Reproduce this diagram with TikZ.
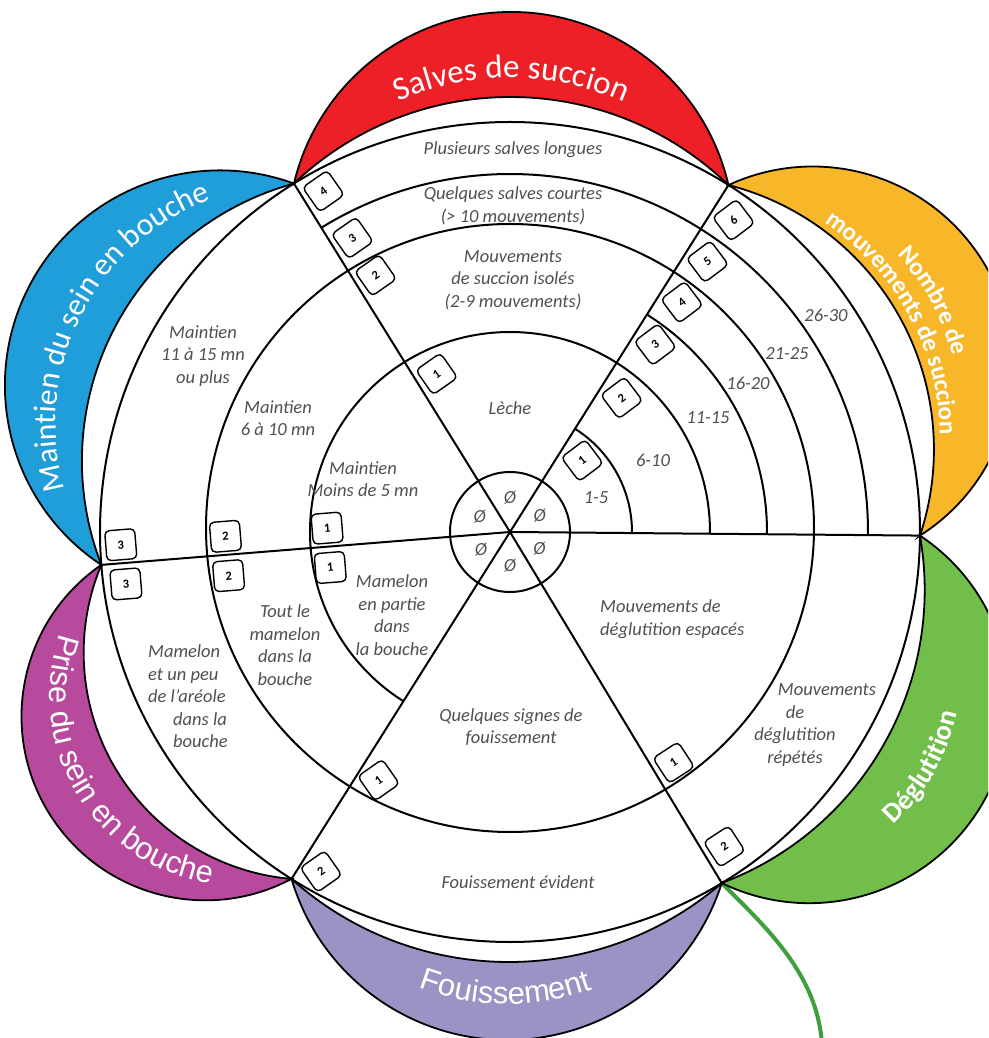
\documentclass[tikz,border=0pt]{standalone}
\usepackage{fontspec}
\setmainfont{Carlito}
\newfontfamily\arialf{Liberation Sans}
\usetikzlibrary{decorations.text,calc}

\definecolor{cyellow}{RGB}{248,183,40}
\definecolor{cred}{RGB}{236,32,38}
\definecolor{cblue}{RGB}{32,158,218}
\definecolor{cmag}{RGB}{184,74,158}
\definecolor{clav}{RGB}{156,146,196}
\definecolor{cgreen}{RGB}{114,190,74}
\definecolor{cstem}{RGB}{62,160,60}
\definecolor{txtgray}{RGB}{80,80,80}

% geometry of a circular arc through (a1:410) and (a2:410) with apex at distance D
\newcommand\lensgeom[3]{%
  \pgfmathsetmacro\lgH{4.1*sin(((#2)-(#1))/2)}%
  \pgfmathsetmacro\lgD{4.1*cos(((#2)-(#1))/2)}%
  \pgfmathsetmacro\lgS{(#3)/100-\lgD}%
  \pgfmathsetmacro\lgR{(\lgH*\lgH+\lgS*\lgS)/(2*\lgS)}%
  \pgfmathsetmacro\lgC{(#3)/100-\lgR}%
  \pgfmathsetmacro\lgM{((#1)+(#2))/2}%
  \pgfmathsetmacro\lgOx{\lgC*cos(\lgM)}%
  \pgfmathsetmacro\lgOy{\lgC*sin(\lgM)}%
  \pgfmathsetmacro\lgA{atan2(4.1*sin(#1)-\lgOy,4.1*cos(#1)-\lgOx)}%
  \pgfmathsetmacro\lgB{atan2(4.1*sin(#2)-\lgOy,4.1*cos(#2)-\lgOx)}%
  \pgfmathsetmacro\lgB{\lgB+360*(\lgB<\lgA)}%
  \pgfmathsetmacro\lgRpx{\lgR*100}%
}
\newcommand\petal[5]{%
  \lensgeom{#1}{#2}{#3}%
  \let\pOA\lgA \let\pOB\lgB \let\pOR\lgRpx
  \lensgeom{#1}{#2}{#4}%
  \filldraw[petalst, fill=#5] (#1:410pt) arc[start angle=\pOA, end angle=\pOB, radius=\pOR pt]
     arc[start angle=\lgB, end angle=\lgA, radius=\lgRpx pt] -- cycle;%
}
\newcommand\ptext[5]{%
  \lensgeom{#1}{#2}{#3}%
  \ifnum#4=1
    \path[decorate, decoration={text along path, text={#5}, text align=center, text color=white}]
      (#2:410pt) arc[start angle=\lgB, end angle=\lgA, radius=\lgRpx pt];%
  \else
    \path[decorate, decoration={text along path, text={#5}, text align=center, text color=white}]
      (#1:410pt) arc[start angle=\lgA, end angle=\lgB, radius=\lgRpx pt];%
  \fi
}

\tikzset{
  ring/.style={draw=black, line width=2pt},
  petalst/.style={draw=black, line width=1.8pt},
  lbl/.style={font=\fontsize{18.5}{22.5}\selectfont\itshape, text=txtgray, align=center, inner sep=0pt},
  numbox/.style={draw=black, line width=1.4pt, rounded corners=4.5pt, minimum width=30pt,
    minimum height=30pt, inner sep=0pt, fill=white, font=\fontsize{12.5}{12.5}\selectfont\bfseries},
}

\begin{document}
\begin{tikzpicture}[x=1pt,y=1pt]
\useasboundingbox (-510,-506) rectangle (478,532);
\clip (-510,-506) rectangle (478,532);
\fill[white] (-510,-506) rectangle (478,532);

\coordinate (C) at (0,0);
\coordinate (J1) at (-0.5:410pt);
\coordinate (J2) at (57.8:410pt);
\coordinate (J3) at (121.8:410pt);
\coordinate (J4) at (184.6:410pt);
\coordinate (J5) at (237.8:410pt);
\coordinate (J6) at (301.1:410pt);
\coordinate (stemend) at (312,-512);

% stem
\draw[cstem, line width=4pt] (J6) .. controls +(45,-45) and +(-5,70) .. (stemend);

% petals
\petal{-0.5}{57.8}{545}{445}{cyellow}
\petal{57.8}{121.8}{520}{435}{cred}
\petal{121.8}{184.6}{540}{445}{cblue}
\petal{184.6}{237.8}{540}{460}{cmag}
\petal{237.8}{301.1}{508}{430}{clav}
\petal{301.1}{359.5}{545}{430}{cgreen}

% petal titles
\ptext{57.8}{121.8}{454}{1}{|\fontsize{33}{33}\selectfont|Salves de succion}
\ptext{121.8}{184.6}{480}{1}{|\fontsize{31.5}{31.5}\selectfont|Maintien du sein en bouche}
\ptext{-0.5}{57.8}{480}{1}{|\fontsize{25}{25}\selectfont\bfseries|Nombre de}
\ptext{-0.5}{57.8}{454}{1}{|\fontsize{25}{25}\selectfont\bfseries|mouvements de succion}
\ptext{301.1}{359.5}{488}{0}{|\fontsize{28}{28}\selectfont\bfseries|Déglutition}
\ptext{237.8}{301.1}{472}{0}{|\arialf\fontsize{31}{31}\selectfont|Fouissement}
\ptext{184.6}{237.8}{506}{0}{|\arialf\fontsize{31}{31}\selectfont|Prise du sein en bouche}

% rings
\draw[ring] (C) circle[radius=410pt];
\draw[ring] (0,4) circle[radius=304pt];
\draw[ring] (C) circle[radius=60pt];
\draw[ring] (-0.5:200pt) arc[start angle=-0.5, end angle=237.8, radius=200pt];
\draw[ring] (-0.5:358pt) arc[start angle=-0.5, end angle=121.8, radius=358pt];
\draw[ring] (-0.5:122pt) arc[start angle=-0.5, end angle=57.8, radius=122pt];
\draw[ring] (-0.5:257pt) arc[start angle=-0.5, end angle=57.8, radius=257pt];

% radial lines
\foreach \j in {J1,J2,J3,J4,J5,J6} \draw[ring] (C) -- (\j);

% number boxes: right sector
\node[numbox, rotate=37] (n1a) at ($(57.8:99pt)+(-32.2:23pt)$) {1};
\node[numbox, rotate=37] (n1b) at ($(57.8:173pt)+(-32.2:23pt)$) {2};
\node[numbox, rotate=37] (n1c) at ($(57.8:236pt)+(-32.2:23pt)$) {3};
\node[numbox, rotate=37] (n1d) at ($(57.8:286pt)+(-32.2:23pt)$) {4};
\node[numbox, rotate=37] (n1e) at ($(57.8:334pt)+(-32.2:23pt)$) {5};
\node[numbox, rotate=37] (n1f) at ($(57.8:383pt)+(-32.2:23pt)$) {6};
% top sector
\node[numbox, rotate=35] (n2a) at ($(121.8:173pt)+(31.8:21pt)$) {1};
\node[numbox, rotate=35] (n2b) at ($(121.8:289pt)+(31.8:21pt)$) {2};
\node[numbox, rotate=35] (n2c) at ($(121.8:333pt)+(31.8:21pt)$) {3};
\node[numbox, rotate=35] (n2d) at ($(121.8:388pt)+(31.8:21pt)$) {4};
% maintien
\node[numbox, rotate=4.6] (n3a) at ($(184.6:182pt)+(94.6:18.5pt)$) {1};
\node[numbox, rotate=4.6] (n3b) at ($(184.6:284pt)+(94.6:18.5pt)$) {2};
\node[numbox, rotate=4.6] (n3c) at ($(184.6:389pt)+(94.6:18.5pt)$) {3};
% prise
\node[numbox, rotate=4.6] (n4a) at ($(184.6:182pt)+(274.6:21pt)$) {1};
\node[numbox, rotate=4.6] (n4b) at ($(184.6:284pt)+(274.6:21pt)$) {2};
\node[numbox, rotate=4.6] (n4c) at ($(184.6:387pt)+(274.6:21pt)$) {3};
% fouissement
\node[numbox, rotate=35] (n5a) at ($(237.8:280pt)+(327.8:21pt)$) {1};
\node[numbox, rotate=35] (n5b) at ($(237.8:388pt)+(327.8:21pt)$) {2};
% deglutition
\node[numbox, rotate=33] (n6a) at ($(301.1:282pt)+(31.1:21pt)$) {1};
\node[numbox, rotate=33] (n6b) at ($(301.1:380pt)+(31.1:21pt)$) {2};

% centre symbols
\foreach \a/\n in {29/o1,90/o2,153/o3,211/o4,270/o5,330/o6}
  \node[lbl] (\n) at (\a:34pt) {Ø};

% labels: salves
\node[lbl] (s4) at (3,382) {Plusieurs salves longues};
\node[lbl] (s3) at (3,326) {Quelques salves courtes\\(> 10 mouvements)};
\node[lbl] (s2) at (3,252) {Mouvements\\de succion isolés\\(2-9 mouvements)};
\node[lbl] (s1) at (0,124) {Lèche};
% nombre
\node[lbl] (m1) at (86,34) {1-5};
\node[lbl] (m2) at (143,72) {6-10};
\node[lbl] (m3) at (198,114) {11-15};
\node[lbl] (m4) at (238,149) {16-20};
\node[lbl] (m5) at (277,178) {21-25};
\node[lbl] (m6) at (316,217) {26-30};
% maintien
\node[lbl] (t3) at (-307,176) {Maintien\\11 à 15 mn\\ou plus};
\node[lbl] (t2) at (-232,114) {Maintien\\6 à 10 mn};
\node[lbl] (t1) at (-147,53) {Maintien\\Moins de 5 mn};
% prise
\node[lbl] (p1) at (-118,-83) {Mamelon\\en partie\\dans\\la bouche};
\node[lbl] (p2) at (-225,-113) {Tout le\\mamelon\\dans la\\bouche};
\node[lbl, align=left, anchor=west] (p3) at (-362,-164.5) {Mamelon\\et un peu\\de l’aréole\\\hspace*{25pt}dans la\\\hspace*{25pt}bouche};
% fouissement
\node[lbl] (f1) at (1,-195) {Quelques signes de\\fouissement};
\node[lbl] (f2) at (8,-350) {Fouissement évident};
% deglutition
\node[lbl, align=left, anchor=west] (d1) at (90,-87) {Mouvements de\\déglutition espacés};
\node[lbl] (d2) at (285,-193) {\hspace*{64pt}Mouvements\\de\\déglutition\\répétés};
\end{tikzpicture}
\end{document}
